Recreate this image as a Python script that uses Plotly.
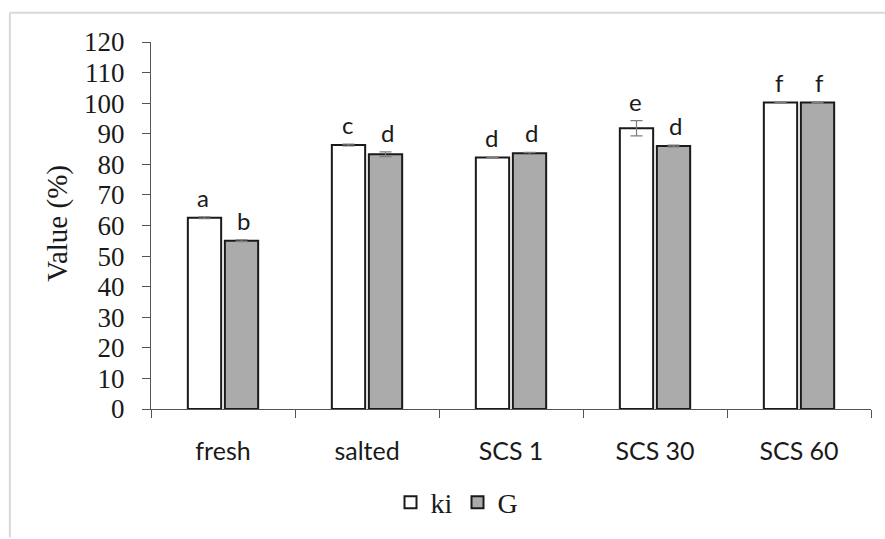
import plotly.graph_objects as go

categories = ["fresh", "salted", "SCS 1", "SCS 30", "SCS 60"]
ki_values = [62.5, 86.3, 82.2, 91.8, 100.2]
ki_errors = [0.3, 0.3, 0.2, 2.5, 0.2]
g_values = [55.0, 83.3, 83.6, 86.0, 100.2]
g_errors = [0.3, 0.8, 0.3, 0.3, 0.2]
ki_letters = ["a", "c", "d", "e", "f"]
g_letters = ["b", "d", "d", "d", "f"]
y_ticks = list(range(0, 121, 10))

fig = go.Figure()
fig.add_trace(go.Bar(
    name="ki", x=categories, y=ki_values,
    marker=dict(color="white", line=dict(color="#1a1a1a", width=2)),
    error_y=dict(type="data", array=ki_errors, color="#7f7f7f", thickness=1.2, width=6),
))
fig.add_trace(go.Bar(
    name="G", x=categories, y=g_values,
    marker=dict(color="#ababab", line=dict(color="#1a1a1a", width=2)),
    error_y=dict(type="data", array=g_errors, color="#7f7f7f", thickness=1.2, width=6),
))

annotations = []
for cat, v, e, t in zip(categories, ki_values, ki_errors, ki_letters):
    annotations.append(dict(x=cat, y=v + e, text=t, xref="x", yref="y", showarrow=False,
                            xshift=-20, yshift=3, yanchor="bottom",
                            font=dict(family="Lato", size=24, color="#1a1a1a")))
for cat, v, e, t in zip(categories, g_values, g_errors, g_letters):
    annotations.append(dict(x=cat, y=v + e, text=t, xref="x", yref="y", showarrow=False,
                            xshift=20, yshift=3, yanchor="bottom",
                            font=dict(family="Lato", size=24, color="#1a1a1a")))

annotations.append(dict(x=-0.129, y=0.505, xref="paper", yref="paper", text="Value (%)",
                        textangle=-90, showarrow=False, xanchor="center", yanchor="middle",
                        font=dict(family="Liberation Serif", size=29, color="#1a1a1a")))

fig.update_layout(
    width=885, height=539,
    margin=dict(l=151, r=14, t=42, b=128),
    paper_bgcolor="white", plot_bgcolor="white",
    barmode="group", bargap=0.486, bargroupgap=0.1,
    showlegend=True,
    legend=dict(orientation="h", x=0.425, xanchor="center", y=-0.255, yanchor="middle",
                font=dict(family="Liberation Serif", size=28, color="#1a1a1a"),
                itemwidth=30, tracegroupgap=0),
    annotations=annotations,
    shapes=[
        dict(type="line", xref="paper", yref="paper", x0=-0.196, x1=1.03, y0=1.08, y1=1.08,
             line=dict(color="#d9d9d9", width=2)),
        dict(type="line", xref="paper", yref="paper", x0=-0.196, x1=-0.196, y0=-0.35, y1=1.08,
             line=dict(color="#d9d9d9", width=2)),
    ],
)
fig.update_xaxes(
    type="category", tickson="boundaries", ticks="outside", ticklen=8, tickcolor="#555",
    showline=True, linecolor="#555", linewidth=1, showgrid=False,
    tickfont=dict(family="Lato", size=25, color="#1a1a1a"), ticklabelstandoff=20,
)
fig.update_yaxes(
    range=[0, 120], tickvals=y_ticks, ticks="outside", ticklen=8, tickcolor="#555",
    showline=True, linecolor="#555", linewidth=1, showgrid=False, zeroline=False,
    tickfont=dict(family="Liberation Serif", size=27, color="#1a1a1a"), ticklabelstandoff=12,
)

fig.write_html("out.html")
